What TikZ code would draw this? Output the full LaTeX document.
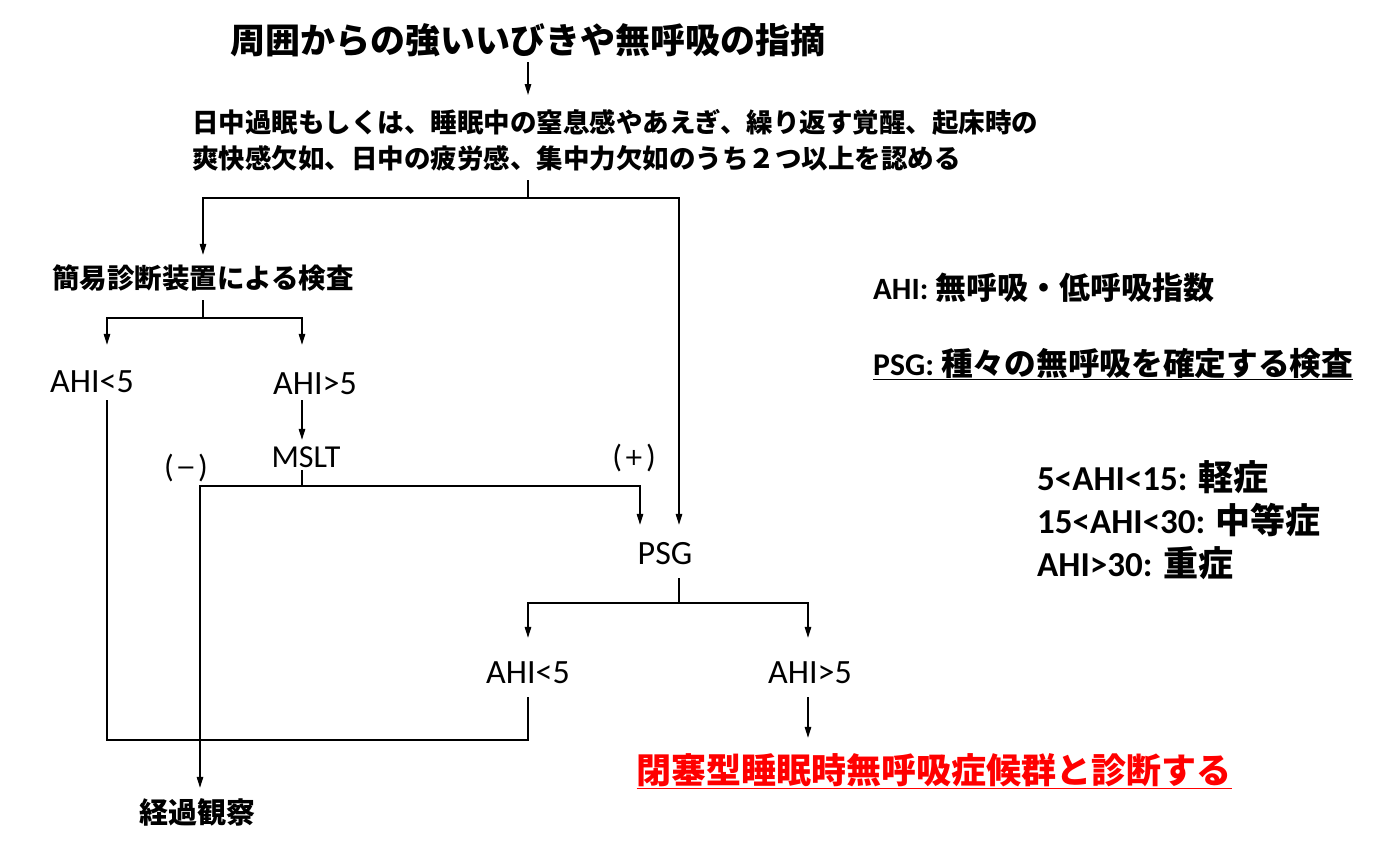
\documentclass[tikz,border=0pt]{standalone}
\usepackage{fontspec}
\usepackage{graphicx}
\usetikzlibrary{arrows.meta}
\newfontfamily\jp{Noto Sans CJK JP}
\newfontfamily\lat{Carlito}
\newfontfamily\dv{DejaVu Sans}
\newcommand\setfs[1]{\fontsize{#1}{#1}\selectfont}
\newcommand\signsym[1]{\raisebox{2pt}{\dv\setfs{24}#1}}
\tikzset{
  conn/.style={line width=1.4pt},
  arr/.style={conn,-{Triangle[length=11pt,width=6.5pt]}},
  lbl/.style={inner sep=0pt, anchor=base},
  note/.style={inner sep=0pt, anchor=base west},
  sign/.style={inner sep=0pt, font=\lat\setfs{32}},
}
\begin{document}
\begin{tikzpicture}[x=1pt,y=-1pt]
\useasboundingbox[fill=white] (0,0) rectangle (1400,847);
% column and junction coordinates
\coordinate (cA) at (107,0);
\coordinate (cC) at (302,0);
\coordinate (cD) at (200,0);
\coordinate (cE) at (528,0);
\coordinate (cF) at (640,0);
\coordinate (cG) at (679,0);
\coordinate (cH) at (808,0);
\coordinate (j1) at (528,198);
\coordinate (j2) at (203,318);
\coordinate (j3) at (302,486);
\coordinate (j4) at (679,603);
\coordinate (j5) at (528,740);
% nodes
\node[lbl, font=\jp\bfseries\setfs{35}, text height=31pt, text depth=9pt] (title) at (528,53) {周囲からの強いいびきや無呼吸の指摘};
\node[inner sep=0pt, anchor=north west, align=left, font=\jp\bfseries\fontsize{26.5}{36}\selectfont] (crit) at (192,95)
  {\rule{0pt}{37pt}日中過眠もしくは、睡眠中の窒息感やあえぎ、繰り返す覚醒、起床時の\\\rule[-12pt]{0pt}{12pt}爽快感欠如、日中の疲労感、集中力欠如のうち２つ以上を認める};
\node[lbl, font=\jp\bfseries\setfs{27.5}, text height=33pt, text depth=12pt] (kan) at (203,288) {簡易診断装置による検査};
\node[lbl, font=\lat\setfs{34}, text height=47pt, text depth=8pt] (a1) at (92,392) {AHI<5};
\node[lbl, font=\lat\setfs{34}, text height=49pt, text depth=6pt] (a2) at (315,394) {AHI>5};
\node[lbl, font=\lat\setfs{32}, text height=27pt, text depth=3pt] (mslt) at (306,467) {MSLT};
\node[sign] (minus) at (186,468) {(\hspace{2pt}\signsym{−}\hspace{2pt})};
\node[sign] (plus) at (634,458) {(\hspace{2pt}\signsym{+}\hspace{2pt})};
\node[lbl, font=\lat\setfs{34}, text height=39pt, text depth=14pt] (psg) at (665,564) {PSG};
\node[lbl, font=\lat\setfs{34}, text height=45pt, text depth=14pt] (b1) at (528,683) {AHI<5};
\node[lbl, font=\lat\setfs{34}, text height=45pt, text depth=14pt] (b2) at (810,683) {AHI>5};
\node[lbl, font=\jp\bfseries\setfs{29}, text height=35pt, text depth=6pt] (kk) at (197,823) {経過観察};
\node[lbl, font=\jp\bfseries\setfs{35}, text height=45pt, text depth=10pt, text=red] (dx) at (934,783) {\underline{閉塞型睡眠時無呼吸症候群と診断する}};
% notes
\node[note, font=\jp\bfseries\setfs{31}] (n1) at (873,299) {{\lat\bfseries AHI:} 無呼吸・低呼吸指数};
\node[note, font=\jp\bfseries\setfs{31.7}] (n2) at (873,375) {\underline{{\lat\bfseries PSG:} 種々の無呼吸を確定する検査}};
\node[note, font=\jp\bfseries\setfs{35}] (n3) at (1037,490) {{\lat\bfseries 5<AHI<15:} 軽症};
\node[note, font=\jp\bfseries\setfs{35}] (n4) at (1037,533) {{\lat\bfseries 15<AHI<30:} 中等症};
\node[note, font=\jp\bfseries\setfs{35}] (n5) at (1037,576) {{\lat\bfseries AHI>30:} 重症};
% connectors
\draw[arr] (title.south) -- (crit.north -| title.south);
\draw[conn] (crit.south -| title.south) -- (j1);
\draw[arr] (j1) -| (kan.north);
\draw[arr] (j1) -| (psg.north -| cG);
\draw[conn] (kan.south) -- (j2);
\draw[arr] (j2) -| (a1.north -| cA);
\draw[arr] (j2) -| (a2.north -| cC);
\draw[arr] (a2.south -| cC) -- (mslt.north -| cC);
\draw[conn] (mslt.south -| cC) -- (j3);
\draw[arr] (j3) -| (psg.north -| cF);
\draw[arr] (j3) -| (kk.north -| cD);
\draw[conn] (psg.south -| cG) -- (j4);
\draw[arr] (j4) -| (b1.north -| cE);
\draw[arr] (j4) -| (b2.north -| cH);
\draw[arr] (b2.south -| cH) -- (dx.north -| cH);
\draw[conn] (a1.south -| cA) |- (j5) -- (b1.south -| cE);
\end{tikzpicture}
\end{document}
